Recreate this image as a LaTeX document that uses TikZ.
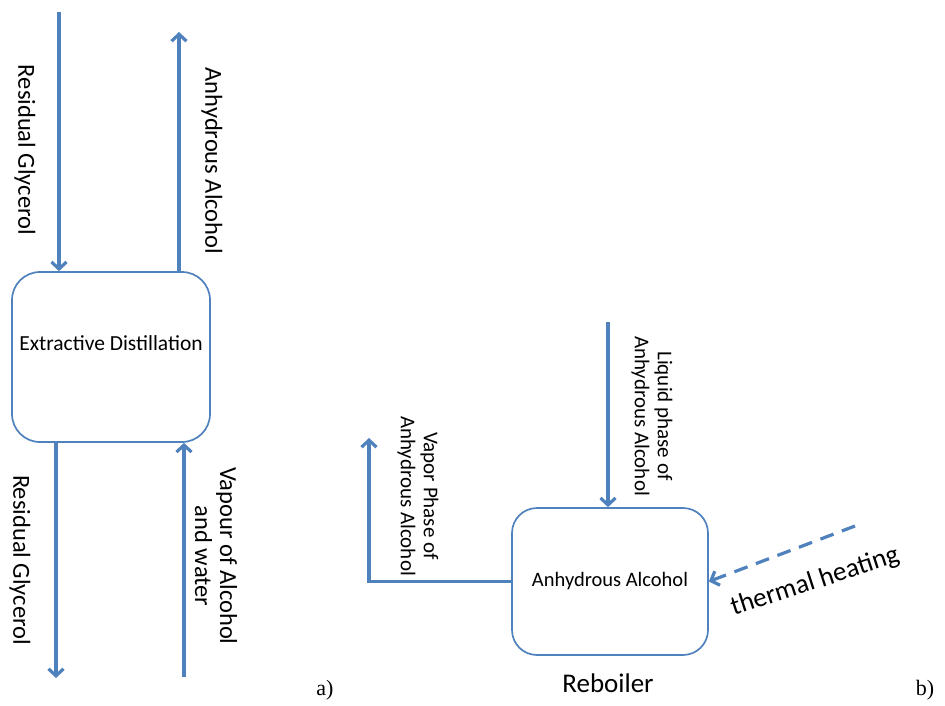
\documentclass[tikz,border=0pt]{standalone}
\usepackage{fontspec}
\setmainfont{Carlito}
\newfontfamily\serifpart{Liberation Serif}
\usetikzlibrary{arrows.meta}
\definecolor{flowblue}{RGB}{79,129,189}

\begin{document}
\begin{tikzpicture}[x=1pt,y=-1pt,
  unit/.style={draw=flowblue, line width=1.7pt, rounded corners=28pt},
  stream/.style={flowblue, line width=3.2pt, -{Straight Barb[length=7pt,width=15pt]}},
  heatflow/.style={flowblue, line width=3.2pt, dash pattern=on 14pt off 9pt, -{Straight Barb[length=7pt,width=15pt]}},
  sidetext/.style={rotate=-90, align=center, inner sep=0pt}]

\useasboundingbox (0,0) rectangle (945,706);

%% a) extractive distillation column
\node[unit, minimum width=198pt, minimum height=170pt] (column) at (111,357) {};
\node[font=\fontsize{21.5}{24}\selectfont] (columntext) at ([yshift=14pt]column.center) {Extractive Distillation};

\coordinate (glyin) at (59,12);
\coordinate (alcout) at (179,32);
\coordinate (glyout) at (56,678);
\coordinate (vapin) at (184,677);

\draw[stream] (glyin) -- (column.north -| glyin);
\draw[stream] (column.north -| alcout) -- (alcout);
\draw[stream] (column.south -| glyout) -- (glyout);
\draw[stream] (vapin) -- (column.south -| vapin);

\node[sidetext, font=\fontsize{24.5}{25}\selectfont] (glyinlbl) at (25,150) {Residual Glycerol};
\node[sidetext, font=\fontsize{24.5}{25}\selectfont] (alcoutlbl) at (212,161) {Anhydrous Alcohol};
\node[sidetext, font=\fontsize{24.5}{25}\selectfont] (glyoutlbl) at (20,560) {Residual Glycerol};
\node[sidetext, font=\fontsize{24.5}{25}\selectfont] (vapinlbl) at (216,556) {Vapour of Alcohol\\and water};

\node[font=\serifpart\fontsize{22}{25}\selectfont] (parta) at (325,690) {a)};

%% b) reboiler
\node[unit, rounded corners=25pt, minimum width=196pt, minimum height=147pt,
  font=\fontsize{20.5}{24}\selectfont] (reboiler) at (610,581.5) {Anhydrous Alcohol};
\node[font=\fontsize{27}{30}\selectfont] (reboilername) at (608,683) {Reboiler};

\coordinate (liqin) at (608,322);
\coordinate (vapout) at (369,438);
\coordinate (heatin) at (855,526);

\draw[stream] (liqin) -- (reboiler.north -| liqin);
\draw[stream] (reboiler.west) -| (vapout);
\draw[heatflow] (heatin) -- (reboiler.east);

\node[sidetext, font=\fontsize{21}{23}\selectfont] (liqinlbl) at (652,416) {Liquid phase of\\Anhydrous Alcohol};
\node[sidetext, font=\fontsize{21}{23}\selectfont] (vapoutlbl) at (418,496) {Vapor Phase of\\Anhydrous Alcohol};
\node[rotate=18, font=\fontsize{27}{30}\selectfont] (heatlbl) at (815,582) {thermal heating};

\node[font=\serifpart\fontsize{22}{25}\selectfont] (partb) at (925,690) {b)};

\end{tikzpicture}
\end{document}
